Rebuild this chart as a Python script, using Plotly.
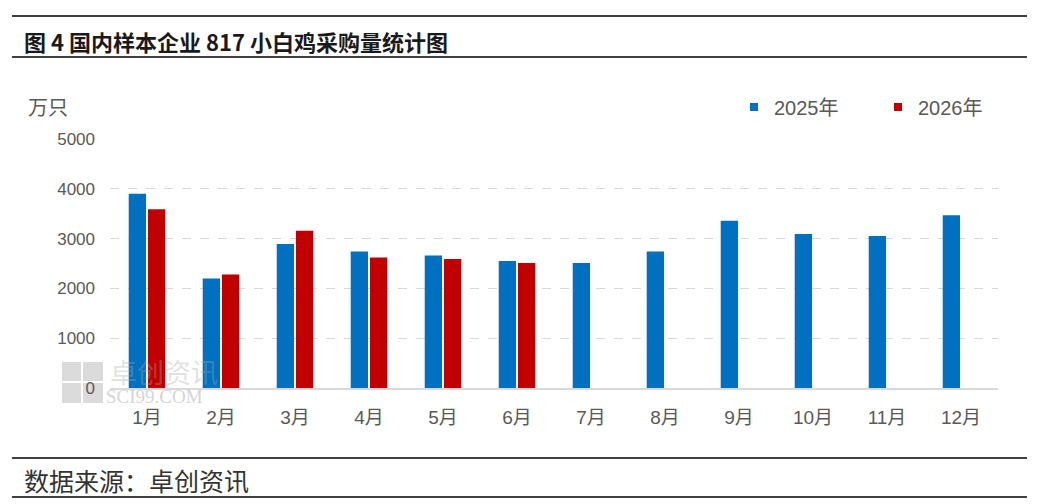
import plotly.graph_objects as go

months = ["1月", "2月", "3月", "4月", "5月", "6月", "7月", "8月", "9月", "10月", "11月", "12月"]
y2025 = [3900, 2200, 2890, 2740, 2660, 2550, 2510, 2740, 3360, 3090, 3050, 3470]
y2026 = [3590, 2280, 3160, 2620, 2590, 2510, None, None, None, None, None, None]
yticks = [0, 1000, 2000, 3000, 4000, 5000]

W, H = 1046, 504
OX, OY = 8, 8  # page body offset
SL, SR, ST, SB = 110, 998, 139, 388
L, R, T, B = SL - OX, SR - OX, ST - OY, SB - OY

def px(x):
    return (x - SL) / (SR - SL)

def py(y):
    return (SB - y) / (SB - ST)

c25, c26 = "#0070C0", "#C00000"
cjk = "Noto Sans CJK SC"
grey = "#595959"

fig = go.Figure()
fig.add_trace(go.Bar(name="2025年", x=months, y=y2025, marker=dict(color=c25, line=dict(width=0)),
                     showlegend=False))
fig.add_trace(go.Bar(name="2026年", x=months, y=y2026, marker=dict(color=c26, line=dict(width=0)),
                     showlegend=False))
for name, col in [("2025年", c25), ("2026年", c26)]:
    fig.add_trace(go.Scatter(name=name, x=[None], y=[None], mode="markers",
                             marker=dict(symbol="square", size=8, color=col), showlegend=True))

shapes = []
for yy in [16, 57, 458, 497]:
    shapes.append(dict(type="line", xref="paper", yref="paper", x0=px(12), x1=px(1027),
                       y0=py(yy), y1=py(yy), line=dict(color="#404040", width=2.2)))
for (x0, x1, y0, y1) in [(62, 81, 362, 381), (83, 103, 362, 381), (62, 81, 383, 403), (83, 103, 383, 403)]:
    shapes.append(dict(type="rect", xref="paper", yref="paper", x0=px(x0), x1=px(x1),
                       y0=py(y1), y1=py(y0), fillcolor="rgba(175,175,175,0.45)", line=dict(width=0),
                       layer="below"))

annotations = [
    dict(text="<b>图 4 国内样本企业 817 小白鸡采购量统计图</b>", xref="paper", yref="paper",
         x=px(22), y=py(41), xanchor="left", yanchor="middle", showarrow=False,
         font=dict(family=cjk, size=22, color="#1a1a1a")),
    dict(text="万只", xref="paper", yref="paper", x=px(26), y=py(107), xanchor="left", yanchor="middle",
         showarrow=False, font=dict(family=cjk, size=20, color=grey)),
    dict(text="数据来源：卓创资讯", xref="paper", yref="paper", x=px(22), y=py(480), xanchor="left",
         yanchor="middle", showarrow=False, font=dict(family=cjk, size=25, color="#333333")),
    dict(text="卓创资讯", xref="paper", yref="paper", x=px(108), y=py(371), xanchor="left",
         yanchor="middle", showarrow=False, font=dict(family=cjk, size=27, color="rgba(170,170,170,0.35)")),
    dict(text="SCI99.COM", xref="paper", yref="paper", x=px(104), y=py(396), xanchor="left",
         yanchor="middle", showarrow=False, font=dict(family="Liberation Serif", size=19, color="rgba(170,170,170,0.5)")),
]

fig.update_layout(
    width=W, height=H,
    margin=dict(l=L, r=W - R, t=T, b=H - B, pad=0, autoexpand=False),
    paper_bgcolor="white", plot_bgcolor="white",
    barmode="group", bargap=0.48, bargroupgap=0.1,
    showlegend=True,
    legend=dict(orientation="h", x=px(734), y=py(107), xanchor="left", yanchor="middle",
                font=dict(family="Liberation Sans, " + cjk, size=20, color=grey),
                itemwidth=30, traceorder="normal", entrywidth=99, entrywidthmode="pixels",
                bgcolor="rgba(0,0,0,0)", tracegroupgap=0),
    shapes=shapes,
    annotations=annotations,
    font=dict(family="Liberation Sans, " + cjk, color=grey),
)
fig.update_yaxes(range=[0, 5000], tickvals=yticks, showgrid=True, gridcolor="#d9d9d9",
                 griddash="dash", gridwidth=1, zeroline=False, showline=False,
                 tickfont=dict(family="Liberation Sans", size=17, color=grey), ticklabelstandoff=14)
fig.update_xaxes(showline=True, linecolor="#d9d9d9", linewidth=1.5, showgrid=False,
                 tickfont=dict(family="Liberation Sans, " + cjk, size=19, color=grey),
                 ticklabelstandoff=11)

fig.write_html("out.html")
